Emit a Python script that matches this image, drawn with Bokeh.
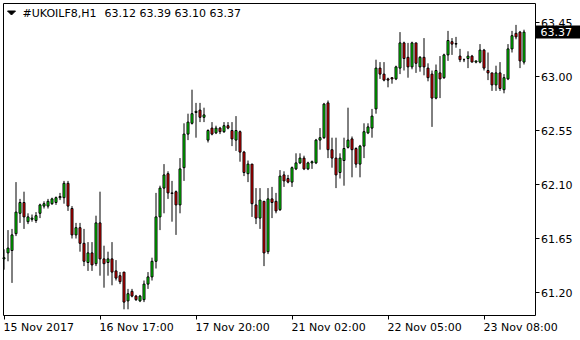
from bokeh.plotting import figure
from bokeh.models import (ColumnDataSource, Range1d, FixedTicker, PrintfTickFormatter, Label,
                          LabelSet, PolyAnnotation, BoxAnnotation, LinearAxis)
from bokeh.core.properties import value
from bokeh.embed import file_html
from bokeh.resources import INLINE

symbol = "#UKOILF8,H1"
last_ohlc = "63.12 63.39 63.10 63.37"

opens = [61.48, 61.53, 61.55, 61.69, 61.86, 61.95, 61.79, 61.81, 61.80, 61.86,
         61.92, 61.92, 61.94, 61.95, 61.99, 61.99, 62.11, 61.90, 61.68, 61.74,
         61.61, 61.45, 61.53, 61.44, 61.78, 61.48, 61.45, 61.48, 61.38, 61.34,
         61.37, 61.13, 61.21, 61.17, 61.13, 61.14, 61.27, 61.33, 61.46, 61.83,
         62.07, 62.19, 62.025, 62.04, 61.93, 62.24, 62.52, 62.61, 62.70, 62.72,
         62.66, 62.47, 62.57, 62.53, 62.57, 62.54, 62.59, 62.55, 62.47, 62.54,
         62.37, 62.19, 62.27, 61.93, 61.82, 61.96, 61.54, 61.98, 61.96, 61.89,
         62.18, 62.15, 62.12, 62.23, 62.28, 62.32, 62.23, 62.28, 62.28, 62.47,
         62.49, 62.78, 62.39, 62.32, 62.20, 62.30, 62.41, 62.48, 62.40, 62.27,
         62.42, 62.53, 62.57, 62.73, 63.07, 63.02, 62.98, 62.99, 62.98, 63.07,
         63.28, 63.16, 63.08, 63.28, 63.08, 63.16, 63.07, 63.02, 62.82, 63.03,
         62.99, 63.18, 63.29, 63.275, 63.17, 63.14, 63.15, 63.17, 63.12, 63.12,
         63.22, 63.05, 63.03, 62.93, 63.03, 62.89, 62.98, 63.23, 63.36, 63.37,
         63.12]
highs = [61.56, 61.72, 61.73, 62.12, 61.98, 62.04, 61.86, 61.85, 61.87, 61.94,
         61.96, 61.98, 61.99, 62.00, 62.03, 62.13, 62.13, 61.92, 61.78, 61.78,
         61.73, 61.62, 61.62, 61.84, 62.04, 61.59, 61.54, 61.62, 61.47, 61.37,
         61.37, 61.23, 61.23, 61.18, 61.18, 61.30, 61.37, 61.49, 62.03, 62.09,
         62.27, 62.21, 62.13, 62.05, 62.32, 62.61, 62.69, 62.89, 62.78, 62.78,
         62.74, 62.56, 62.62, 62.59, 62.58, 62.62, 62.62, 62.62, 62.67, 62.55,
         62.38, 62.30, 62.27, 62.07, 62.07, 61.96, 62.07, 62.08, 62.03, 62.22,
         62.21, 62.18, 62.25, 62.36, 62.36, 62.34, 62.29, 62.30, 62.48, 62.57,
         62.78, 62.80, 62.49, 62.49, 62.36, 62.49, 62.74, 62.50, 62.41, 62.43,
         62.61, 62.61, 62.73, 63.14, 63.12, 63.12, 62.99, 62.99, 63.09, 63.37,
         63.29, 63.28, 63.29, 63.28, 63.17, 63.32, 63.11, 63.05, 63.10, 63.17,
         63.19, 63.38, 63.32, 63.33, 63.23, 63.15, 63.21, 63.18, 63.13, 63.27,
         63.23, 63.20, 63.03, 63.09, 63.12, 63.02, 63.27, 63.38, 63.43, 63.38,
         63.39]
lows = [61.39, 61.46, 61.28, 61.67, 61.78, 61.73, 61.77, 61.79, 61.78, 61.82,
        61.90, 61.90, 61.93, 61.93, 61.97, 61.94, 61.88, 61.65, 61.65, 61.54,
        61.42, 61.38, 61.38, 61.42, 61.34, 61.24, 61.34, 61.26, 61.30, 61.27,
        61.06, 61.06, 61.16, 61.13, 61.12, 61.12, 61.23, 61.30, 61.40, 61.72,
        61.86, 61.98, 61.79, 61.68, 61.86, 62.13, 62.47, 62.60, 62.49, 62.62,
        62.62, 62.45, 62.51, 62.52, 62.52, 62.53, 62.56, 62.42, 62.38, 62.29,
        62.17, 62.12, 61.83, 61.77, 61.73, 61.42, 61.52, 61.82, 61.86, 61.88,
        62.08, 62.11, 62.08, 62.22, 62.27, 62.22, 62.22, 62.23, 62.27, 62.39,
        62.48, 62.32, 62.24, 62.07, 62.15, 62.09, 62.40, 62.16, 62.24, 62.16,
        62.32, 62.52, 62.49, 62.69, 62.98, 62.96, 62.91, 62.94, 62.97, 63.02,
        63.05, 62.99, 63.06, 63.03, 63.04, 63.01, 62.96, 62.58, 62.81, 62.82,
        62.98, 63.13, 63.18, 63.24, 63.12, 63.12, 63.07, 63.12, 63.11, 63.11,
        63.05, 62.97, 62.88, 62.88, 62.88, 62.86, 62.97, 63.20, 63.31, 63.07,
        63.10]
closes = [61.49, 61.57, 61.68, 61.87, 61.95, 61.83, 61.83, 61.82, 61.84, 61.93,
          61.94, 61.96, 61.98, 61.99, 62.00, 62.11, 61.92, 61.68, 61.74, 61.61,
          61.46, 61.53, 61.43, 61.78, 61.48, 61.44, 61.48, 61.37, 61.32, 61.29,
          61.12, 61.19, 61.17, 61.14, 61.17, 61.27, 61.33, 61.46, 61.83, 62.07,
          62.18, 62.03, 62.03, 61.93, 62.23, 62.52, 62.62, 62.69, 62.71, 62.66,
          62.68, 62.55, 62.52, 62.57, 62.54, 62.59, 62.57, 62.48, 62.55, 62.37,
          62.20, 62.27, 61.94, 61.82, 61.97, 61.53, 61.98, 61.95, 61.88, 62.17,
          62.13, 62.12, 62.24, 62.28, 62.32, 62.23, 62.28, 62.29, 62.47, 62.49,
          62.77, 62.39, 62.32, 62.18, 62.32, 62.40, 62.47, 62.39, 62.27, 62.42,
          62.54, 62.58, 62.67, 63.07, 63.02, 62.97, 62.97, 62.98, 63.08, 63.28,
          63.15, 63.08, 63.28, 63.11, 63.16, 63.08, 62.99, 62.82, 63.05, 62.98,
          63.18, 63.30, 63.27, 63.27, 63.14, 63.14, 63.17, 63.12, 63.13, 63.22,
          63.07, 63.03, 62.93, 63.03, 62.90, 62.99, 63.23, 63.34, 63.33, 63.13,
          63.37]

time_tick_bars = [0, 24, 48, 72, 96, 120]
time_tick_labels = ["15 Nov 2017", "16 Nov 17:00", "17 Nov 20:00",
                    "21 Nov 02:00", "22 Nov 05:00", "23 Nov 08:00"]
price_ticks = [61.20, 61.65, 62.10, 62.55, 63.00, 63.45]

BULL = "#00ff00"
BEAR = "#ff0000"
FONT = "DejaVu Sans"

# pixel <-> data scale of the MT4-like canvas (frame covers the whole canvas)
BAR0_PX, PX_PER_BAR = 3.5, 4.0
REF_PRICE, REF_PY, PX_PER_UNIT = 63.00, 76.0, 120.0


def x_of(px):
    return (px - BAR0_PX) / PX_PER_BAR


def y_of(py):
    return REF_PRICE - (py - REF_PY) / PX_PER_UNIT


n = len(opens)
src = ColumnDataSource(dict(
    x=list(range(n)), h=highs, l=lows,
    top=[max(a, b) for a, b in zip(opens, closes)],
    bottom=[min(a, b) for a, b in zip(opens, closes)],
    color=[BULL if c >= o else BEAR for o, c in zip(opens, closes)],
))

p = figure(width=580, height=340, output_backend="svg", toolbar_location=None,
           x_range=Range1d(x_of(0), x_of(580)), y_range=Range1d(y_of(340), y_of(0)),
           x_axis_location=None, y_axis_location=None,
           min_border_left=0, min_border_right=0, min_border_top=0, min_border_bottom=0)
p.background_fill_color = "white"
p.border_fill_color = "white"
p.outline_line_color = None
p.xgrid.visible = False
p.ygrid.visible = False

p.segment(x0="x", y0="l", x1="x", y1="h", source=src, line_color="black", line_width=1)
p.vbar(x="x", width=0.5, top="top", bottom="bottom", source=src,
       fill_color="color", line_color="black", line_width=1)

left_x, right_x = x_of(2.5), x_of(534.5)
top_y, bottom_y = y_of(3), y_of(315)


def style(ax):
    ax.axis_line_color = "black"
    ax.major_tick_line_color = "black"
    ax.major_tick_out = 4
    ax.major_tick_in = 0
    ax.minor_tick_line_color = None
    ax.major_label_text_font = FONT
    ax.major_label_text_font_size = "11px"
    ax.major_label_text_color = "black"
    ax.major_label_standoff = 2
    return ax


xa = style(LinearAxis(fixed_location=bottom_y, bounds=(left_x, right_x),
                      ticker=FixedTicker(ticks=time_tick_bars),
                      major_label_overrides={b: "" for b in time_tick_bars}))
p.add_layout(xa, "below")
ya = style(LinearAxis(fixed_location=right_x, bounds=(bottom_y, top_y),
                      ticker=FixedTicker(ticks=price_ticks),
                      formatter=PrintfTickFormatter(format="%.2f")))
p.add_layout(ya, "right")
ta = style(LinearAxis(fixed_location=top_y, bounds=(left_x, right_x), ticker=FixedTicker(ticks=[])))
p.add_layout(ta, "above")
la = style(LinearAxis(fixed_location=left_x, bounds=(bottom_y, top_y), ticker=FixedTicker(ticks=[])))
p.add_layout(la, "left")

date_src = ColumnDataSource(dict(x=time_tick_bars, y=[y_of(327)] * len(time_tick_bars),
                                 text=time_tick_labels))
p.add_layout(LabelSet(x="x", y="y", text="text", source=date_src, text_font=value(FONT),
                      text_font_size=value("11px"), text_color="black", text_align="left",
                      text_baseline="middle", x_offset=-0.5))

# header
p.add_layout(PolyAnnotation(xs=[x_of(7), x_of(15), x_of(11)], ys=[y_of(10.5), y_of(10.5), y_of(14.5)],
                            fill_color="black", fill_alpha=1, line_color="black", line_alpha=1))
p.add_layout(Label(x=x_of(22), y=y_of(13), text=symbol, text_font=FONT, text_font_size="11px",
                   text_color="black", text_baseline="middle", text_align="left"))
p.add_layout(Label(x=x_of(104), y=y_of(13), text=last_ohlc, text_font=FONT, text_font_size="11px",
                   text_color="black", text_baseline="middle", text_align="left"))

# current price marker
last = closes[-1]
p.add_layout(BoxAnnotation(left=x_of(535), right=x_of(580), top=last + 6.5 / PX_PER_UNIT,
                           bottom=last - 6.5 / PX_PER_UNIT, fill_color="black", fill_alpha=1,
                           line_color=None))
p.add_layout(Label(x=x_of(540), y=last, text=f"{last:.2f}", text_font=FONT, text_font_size="11px",
                   text_color="white", text_baseline="middle", text_align="left"))

open("out.html", "w").write(file_html(p, INLINE))
